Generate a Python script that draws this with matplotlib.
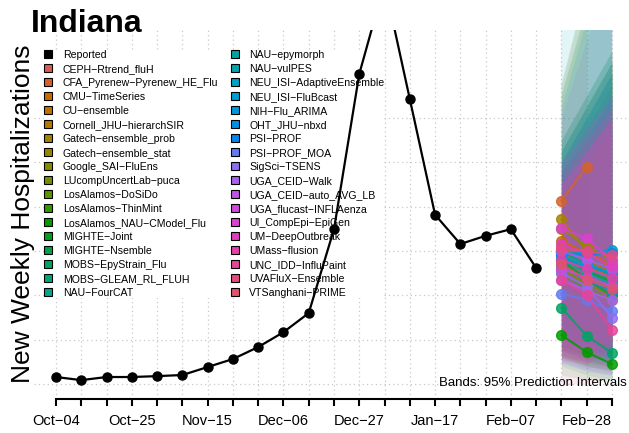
import numpy as np
import pandas as pd
import matplotlib
matplotlib.use('Agg')
import matplotlib.pyplot as plt
import matplotlib.dates as mdates
from matplotlib.lines import Line2D

plt.rcParams['font.family'] = ['Liberation Sans', 'DejaVu Sans']

# reported weekly hospitalizations
rep_dates = pd.date_range('2025-10-04', '2026-02-14', freq='7D')
rep_vals = [32, 18, 32, 32, 36, 41, 77, 113, 167, 234, 320, 698, 1397, 1805,
            1284, 763, 631, 668, 698, 523]

fc_dates = pd.to_datetime(['2026-02-21', '2026-02-28', '2026-03-07'])

models = ['CEPH-Rtrend_fluH', 'CFA_Pyrenew-Pyrenew_HE_Flu', 'CMU-TimeSeries',
          'CU-ensemble', 'Cornell_JHU-hierarchSIR', 'Gatech-ensemble_prob',
          'Gatech-ensemble_stat', 'Google_SAI-FluEns', 'LUcompUncertLab-puca',
          'LosAlamos-DoSiDo', 'LosAlamos-ThinMint', 'LosAlamos_NAU-CModel_Flu',
          'MIGHTE-Joint', 'MIGHTE-Nsemble', 'MOBS-EpyStrain_Flu',
          'MOBS-GLEAM_RL_FLUH', 'NAU-FourCAT', 'NAU-epymorph', 'NAU-vulPES',
          'NEU_ISI-AdaptiveEnsemble', 'NEU_ISI-FluBcast', 'NIH-Flu_ARIMA',
          'OHT_JHU-nbxd', 'PSI-PROF', 'PSI-PROF_MOA', 'SigSci-TSENS',
          'UGA_CEID-Walk', 'UGA_CEID-auto_AVG_LB', 'UGA_flucast-INFLAenza',
          'UI_CompEpi-EpiGen', 'UM-DeepOutbreak', 'UMass-flusion',
          'UNC_IDD-InfluPaint', 'UVAFluX-Ensemble', 'VTSanghani-PRIME']

nan = np.nan
# median forecasts, 1-3 weeks ahead
med_h1 = [560, 826, 646, 619, 589, 742, 700, 560, 520, 500, 540, 221, 580, 560, 344,
          600, 580, 560, 600, 580, 590, 570, 530, 590, 408, 500, 470, 600, 520, 701,
          630, 560, 469, 610, 540]
med_h2 = [500, 979, 590, 560, 530, 600, 620, 470, 450, 430, 480, 144, 510, 470, 218,
          540, 520, 500, 560, 540, 590, 530, 470, 580, 380, 440, 420, 560, 480, 656,
          590, 520, 400, 600, 470]
med_h3 = [470, nan, 540, 500, 480, 520, 560, 420, 400, 380, 430, 90, 460, 400, 141,
          490, 470, 450, 520, 500, 604, 500, 420, 590, 330, 300, 380, 520, 440, 559,
          530, 480, 243, 580, 430]

# 95% interval bounds
lo_h1 = [120, 450, 200, 180, 150, 250, 220, 150, 130, 110, 160, 40, 170, 120, 80,
         200, 160, 150, 220, 200, 180, 170, 130, 200, 100, 90, 100, 180, 130, 150,
         120, 110, 0, 160, 120]
lo_h2 = [80, 400, 150, 130, 110, 200, 170, 100, 90, 80, 120, 20, 130, 80, 40,
         150, 120, 110, 180, 160, 150, 130, 100, 160, 60, 60, 70, 140, 100, 120,
         100, 90, 0, 140, 90]
lo_h3 = [60, nan, 120, 100, 80, 160, 130, 80, 70, 60, 100, 10, 100, 60, 20,
         120, 100, 90, 160, 140, 130, 110, 80, 140, 40, 40, 50, 120, 80, 200,
         180, 170, 30, 190, 160]
hi_h1 = [1000, 1350, 1050, 950, 1050, 1300, 1100, 1000, 950, 1000, 1050, 850, 1100,
         1350, 950, 1300, 1050, 1100, 1700, 1000, 1050, 1000, 950, 1250, 900, 1200,
         900, 1000, 900, 1000, 950, 900, 850, 950, 900]
hi_h2 = [1200, 1800, 1250, 1150, 1250, 1700, 1300, 1200, 1150, 1200, 1250, 1000, 1300,
         1800, 1100, 1700, 1250, 1300, 1950, 1200, 1250, 1200, 1100, 1650, 1050, 1550,
         1050, 1150, 1050, 1150, 1100, 1050, 1000, 1100, 1050]
hi_h3 = [1400, nan, 1450, 1350, 1450, 2050, 1500, 1400, 1350, 1400, 1450, 1150, 1500,
         2250, 1300, 2100, 1450, 1500, 2150, 1400, 1450, 1400, 1300, 2000, 1200, 1900,
         1200, 1300, 1200, 1300, 1250, 1200, 1150, 1250, 1200]

tick_dates = pd.date_range('2025-10-04', '2026-03-07', freq='7D')
tick_labels = {'2025-10-04': 'Oct−04', '2025-10-25': 'Oct−25', '2025-11-15': 'Nov−15',
               '2025-12-06': 'Dec−06', '2025-12-27': 'Dec−27', '2026-01-17': 'Jan−17',
               '2026-02-07': 'Feb−07', '2026-02-28': 'Feb−28'}


def hcl(h, c, l):
    # R's hcl() (polar Luv, D65) -> rgb
    xn, yn, zn = 95.047, 100.0, 108.883
    y = yn * ((l + 16) / 116) ** 3 if l > 8 else yn * l / 903.3
    u = c * np.cos(np.radians(h))
    v = c * np.sin(np.radians(h))
    d = xn + 15 * yn + 3 * zn
    up = u / (13 * l) + 4 * xn / d
    vp = v / (13 * l) + 9 * yn / d
    x = 9 * y * up / (4 * vp)
    z = -x / 3 - 5 * y + 3 * y / vp
    xyz = np.array([x, y, z]) / 100
    m = np.array([[3.240479, -1.537150, -0.498535],
                  [-0.969256, 1.875992, 0.041556],
                  [0.055648, -0.204043, 1.057311]])
    rgb = m @ xyz
    rgb = np.where(rgb <= 0.0031308, 12.92 * rgb, 1.055 * np.abs(rgb) ** (1 / 2.4) - 0.055)
    return tuple(np.clip(rgb, 0, 1))


n = len(models)
colors = [hcl(15 + i * 360 / n, 100, 55) for i in range(n)]

fig = plt.figure(figsize=(6.29, 4.33), dpi=100)
ax = fig.add_axes([33.8 / 629, 34 / 433, 600.4 / 629, 369 / 433])

x0 = mdates.date2num(tick_dates[0])
x1 = mdates.date2num(tick_dates[-1])
pad = 0.04 * (x1 - x0)
ax.set_xlim(x0 - pad, x1 + pad)
ax.set_ylim(-67, 1595)

ax.set_axisbelow(True)
ax.grid(True, color='#C8C8C8', linestyle=(0, (1, 2.5)), linewidth=0.9)
ax.set_yticks([0, 200, 400, 600, 800, 1000, 1200])
ax.tick_params(axis='y', length=0, labelleft=False)
ax.set_xticks(mdates.date2num(tick_dates))
ax.set_xticklabels([tick_labels.get(d.strftime('%Y-%m-%d'), '') for d in tick_dates])
ax.tick_params(axis='x', length=5, width=1.5, pad=6, labelsize=10.5)
for s in ['top', 'right', 'left']:
    ax.spines[s].set_visible(False)
ax.spines['bottom'].set_linewidth(1.5)
ax.spines['bottom'].set_bounds(x0, x1)

fx = mdates.date2num(fc_dates)
for i in range(n):
    lo = np.array([lo_h1[i], lo_h2[i], lo_h3[i]], dtype=float)
    hi = np.array([hi_h1[i], hi_h2[i], hi_h3[i]], dtype=float)
    ok = ~np.isnan(lo)
    ax.fill_between(fx[ok], lo[ok], hi[ok], color=colors[i], alpha=0.11, lw=0, zorder=1.2)
for i in range(n):
    med = np.array([med_h1[i], med_h2[i], med_h3[i]], dtype=float)
    ax.plot(fx, med, '-o', color=colors[i], lw=1.5, ms=7, alpha=0.85, zorder=3)

ax.plot(mdates.date2num(rep_dates), rep_vals, '-o', color='black', lw=1.6, ms=6.5, zorder=4)

handles = [Line2D([], [], marker='s', ls='none', ms=6, mfc='black', mec='black', mew=0.8)]
handles += [Line2D([], [], marker='s', ls='none', ms=6, mfc=c, mec='black', mew=0.8) for c in colors]
labels = ['Reported'] + [m.replace('-', '−') for m in models]
leg = ax.legend(handles, labels, ncol=2, loc='upper left',
                bbox_to_anchor=(43.8 / 629, 1 - 50 / 433), bbox_transform=fig.transFigure,
                fontsize=7.6, frameon=True, framealpha=1, facecolor='white',
                edgecolor='none', borderpad=0, borderaxespad=0, handlelength=0.8,
                handletextpad=1.0, columnspacing=1.14, labelspacing=0.38)
leg.set_zorder(1)

fig.text(31 / 629, 1 - 32 / 433, 'Indiana', fontsize=23, fontweight='bold', va='baseline')
fig.text(23 / 629, 1 - 214 / 433, 'New Weekly Hospitalizations', rotation=90,
         fontsize=19, va='center', ha='center')
fig.text(627 / 629, 1 - 383 / 433, 'Bands: 95% Prediction Intervals', fontsize=9.5,
         ha='right', va='center')

fig.savefig('out.png', dpi=100)
